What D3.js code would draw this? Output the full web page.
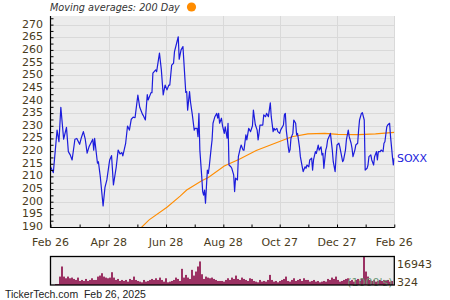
<!DOCTYPE html>
<html><head><meta charset="utf-8">
<script src="https://cdn.jsdelivr.net/npm/d3@7"></script>
<style>body{margin:0;background:#fff}svg{display:block}</style>
</head><body><svg id="c" width="450" height="300"></svg>
<script>
// ---------- data ----------
const startDate = "2024-02-26";
const endDate = "2025-02-26";
const tickDates = ["2024-02-26","2024-04-28","2024-06-28","2024-08-28","2024-10-27","2024-12-27","2025-02-26"];
const tickLabels = ["Feb 26","Apr 28","Jun 28","Aug 28","Oct 27","Dec 27","Feb 26"];
const yTickValues = [190,195,200,205,210,215,220,225,230,235,240,245,250,255,260,265,270];
const seriesName = "SOXX";
// price: days since start, closing value
const priceDays = [0,3,7,9,11,14,17,19,21,23,26,28,31,33,35,37,39,41,45,46,47,50,51,53,56,58,60,63,65,67,70,72,74,76,77,80,82,84,86,88,90,93,95,98,99,101,103,104,107,108,109,112,113,116,118,120,122,124,126,127,129,131,132,136,137,139,141,144,145,146,148,149,151,153,154,156,157,158,159,161,162,163,164,165,166,167,168,169,171,172,173,175,177,178,179,180,182,183,185,186,188,189,190,192,193,195,196,197,199,200,202,203,205,206,208,209,211,213,215,216,218,220,221,222,223,226,227,229,230,232,234,235,237,238,239,241,242,244,245,246,248,249,250,251,253,254,255,256,258,259,261,262,263,265,266,268,269,271,272,273,275,276,278,279,280,282,283,285,286,288,289,290,291,293,294,295,298,300,301,303,304,305,307,308,310,311,312,314,315,317,318,320,321,322,324,325,327,328,329,331,332,334,335,337,338,339,341,342,344,345,347,348,349,351,352,354,355,356,358,359,361,362,364,365,366];
const priceVals = [213.8,211.5,228.3,223.7,237.3,224.7,229.4,219.8,218.5,216.5,224.7,225.0,222.7,225.5,227.7,224.7,219.2,221.7,224.7,220.4,225.0,215.2,215.8,209.9,198.3,205.7,208.6,216.5,218.2,206.6,213.8,220.4,218.9,219.4,218.1,223.1,229.9,228.3,232.6,233.4,233.2,242.1,237.3,234.5,233.9,232.3,242.3,240.2,243.1,243.1,250.8,252.1,251.4,258.7,252.1,242.2,246.1,244.2,246.1,246.1,254.0,254.7,259.3,265.2,256.3,260.0,261.3,243.2,243.5,236.2,243.5,239.5,234.3,228.3,229.0,229.0,225.7,234.9,220.4,209.9,204.0,202.6,204.6,199.4,205.9,212.5,211.2,213.8,221.1,224.4,231.0,233.6,234.9,233.0,234.9,231.0,233.0,230.3,227.0,229.6,225.1,231.0,214.5,213.8,213.2,210.6,204.0,209.3,208.6,217.8,221.1,222.4,220.4,220.4,226.4,224.4,229.0,227.7,230.0,236.2,230.5,228.3,224.4,227.0,230.3,230.3,234.3,233.6,234.9,233.6,239.1,233.6,227.7,229.0,228.3,229.0,227.7,227.0,228.3,229.0,230.3,234.3,234.9,228.3,222.0,219.5,220.5,225.1,227.0,232.3,231.0,226.4,227.0,221.7,217.8,213.8,211.9,213.8,213.2,214.5,213.8,216.5,217.2,212.5,216.5,219.8,219.1,222.4,220.4,221.7,218.5,219.1,213.2,220.4,221.7,224.4,227.0,220.4,215.8,211.9,217.8,222.4,223.1,221.7,217.8,215.8,216.5,220.4,224.4,228.3,225.7,223.1,221.1,217.8,220.4,222.4,223.1,228.3,232.3,234.9,235.2,232.3,212.5,213.2,214.5,217.8,218.5,216.5,214.5,217.8,219.8,216.5,219.8,219.8,220.4,219.8,223.1,223.7,229.6,230.3,231.0,225.7,217.8,214.5,217.2];
// 200-day moving average
const maDays = [97,105,124,138,145,161,168,185,201,219,239,257,274,292,306,328,346,366];
const maVals = [189.9,192.8,197.8,202.2,204.6,208.3,209.6,214.1,216.8,220.2,223.1,225.7,226.8,227.0,226.6,226.5,226.8,227.4];
// volume (1000's), in date order
const volumes = [600,600,5000,11000,5000,4000,5000,4000,4400,3600,3000,4400,2400,3000,2400,3600,2400,3000,4000,3000,3000,5000,5600,7000,5000,4400,4000,4400,7600,4400,3000,3600,2400,3000,2400,3000,2000,3600,3000,5000,3000,2400,2000,1600,3000,2000,2400,3000,3600,3000,4000,3000,4400,3000,2000,4000,1600,2000,2400,3000,4400,3600,2400,9600,4400,6000,4400,3600,9000,5600,8000,11000,14000,6400,3600,5000,4400,4000,4400,3600,3000,2400,2400,2400,2000,3000,4000,3000,4400,3600,5600,3600,3000,4400,3600,3000,2400,4000,3600,2400,2000,1600,3000,2000,2400,2000,3000,6000,3000,2000,2400,1600,2400,3000,3600,5000,2400,2000,3000,4000,2400,3000,3600,2400,4000,3000,3000,2000,2400,3000,2000,2400,1600,2000,2400,2000,3600,3000,4400,3600,5000,3000,2000,2400,3000,3600,4000,2400,3000,2000,3000,3600,2400,4000,16943,8000,5000,3000,2400,3000,2000,2400,3000,2400,3000,2400,3000,2000,2400];
const volMaxLabel = "16943", volMinLabel = "324", volUnit = "(1000's)";
const titleText = "Moving averages: 200 Day";
const footerText = "TickerTech.com  Feb 26, 2025";

// ---------- chart ----------
const svg = d3.select("#c");
const parse = d3.timeParse("%Y-%m-%d");
const t0 = parse(startDate), t1 = parse(endDate);
const L = 50.5, R = 394.3, T = 16, B = 227;
const x = d3.scaleTime().domain([t0, t1]).range([L, R]);
const y = d3.scaleLinear().domain([190, 273.4]).range([B, T]);
const dayDate = d => d3.timeDay.offset(t0, d);
const font = "DejaVu Sans, Verdana, sans-serif";
const txtCol = "#4a3c1c";

svg.append("rect").attr("x", L).attr("y", T).attr("width", R - L).attr("height", B - T).attr("fill", "#ececec");

// grid
svg.append("g").selectAll("line").data(yTickValues.filter(v => v > 190)).join("line")
  .attr("x1", L).attr("x2", R).attr("y1", d => Math.round(y(d)) + 0.5).attr("y2", d => Math.round(y(d)) + 0.5)
  .attr("stroke", "#d9d9d9").attr("stroke-width", 1);
const tDates = tickDates.map(parse);
svg.append("g").selectAll("line").data(tDates.slice(1)).join("line")
  .attr("x1", d => Math.round(x(d)) + 0.5).attr("x2", d => Math.round(x(d)) + 0.5).attr("y1", T).attr("y2", B)
  .attr("stroke", "#d9d9d9").attr("stroke-width", 1);

// lines
svg.append("clipPath").attr("id", "clip").append("rect").attr("x", L).attr("y", T).attr("width", R - L).attr("height", B - T);
const maData = maDays.map((d, i) => [dayDate(d), maVals[i]]);
const prData = priceDays.map((d, i) => [dayDate(d), priceVals[i]]);
const line = d3.line().x(d => x(d[0])).y(d => y(d[1]));
svg.append("path").datum(maData).attr("d", line).attr("clip-path", "url(#clip)")
  .attr("fill", "none").attr("stroke", "#ff8c00").attr("stroke-width", 1.1);
svg.append("path").datum(prData).attr("d", line).attr("clip-path", "url(#clip)")
  .attr("fill", "none").attr("stroke", "#1c1cdc").attr("stroke-width", 1.2).attr("stroke-linejoin", "round");

// axes
const yAx = svg.append("g").attr("transform", `translate(${L},0)`)
  .call(d3.axisRight(y).tickValues(d3.range(190, 273, 2.5)).tickSize(3).tickFormat(""));
yAx.select(".domain").remove();
yAx.selectAll("line").attr("stroke", "#000");
svg.append("line").attr("x1", L).attr("x2", L).attr("y1", T).attr("y2", B + 0.5).attr("stroke", "#000").attr("stroke-width", 1.2);
svg.append("g").selectAll("text").data(yTickValues).join("text")
  .attr("x", 43).attr("y", d => y(d) + 3).attr("text-anchor", "end")
  .attr("font-family", font).attr("font-size", 11).attr("fill", txtCol).text(d => d);

const minor = [];
for (let i = 0; i < tDates.length - 1; i++) minor.push(new Date((+tDates[i] + +tDates[i + 1]) / 2));
const xAx = svg.append("g").attr("transform", `translate(0,${B + 0.5})`)
  .call(d3.axisTop(x).tickValues(tDates.concat(minor)).tickSize(3).tickFormat(""));
xAx.select(".domain").remove();
xAx.selectAll("line").attr("stroke", "#000");
svg.append("line").attr("x1", L).attr("x2", R + 0.5).attr("y1", B + 0.5).attr("y2", B + 0.5).attr("stroke", "#000").attr("stroke-width", 1.2);
svg.append("g").selectAll("text").data(tDates).join("text")
  .attr("x", d => x(d)).attr("y", 245.5).attr("text-anchor", "middle")
  .attr("font-family", font).attr("font-size", 11).attr("fill", txtCol).text((d, i) => tickLabels[i]);

// series label
svg.append("text").attr("x", 397).attr("y", y(priceVals[priceVals.length - 1]) + 4)
  .attr("font-family", font).attr("font-size", 11).attr("fill", "#1c1cdc").text(seriesName);

// title
svg.append("text").attr("x", 50).attr("y", 11).attr("font-family", font).attr("font-style", "italic")
  .attr("font-size", 9.7).attr("fill", "#333").text(titleText);
svg.append("circle").attr("cx", 191.5).attr("cy", 7).attr("r", 4.6).attr("fill", "#ff8c00");

// volume panel
const VT = 256.5, VB = 285;
svg.append("rect").attr("x", L).attr("y", VT).attr("width", R - L).attr("height", VB - VT).attr("fill", "#ececec");
const vx = d3.scaleBand().domain(d3.range(volumes.length)).range([55, 393]).padding(0);
const vy = d3.scaleLinear().domain([0, 16943]).range([VB, VT]);
svg.append("g").selectAll("rect").data(volumes).join("rect")
  .attr("x", (d, i) => vx(i)).attr("width", vx.bandwidth())
  .attr("y", d => vy(d)).attr("height", d => VB - vy(d)).attr("fill", "#9b3163");
svg.append("text").attr("x", 392.5).attr("y", 285.5).attr("text-anchor", "end")
  .attr("font-family", font).attr("font-size", 11).attr("fill", "#6e9a78").text(volUnit);
svg.append("rect").attr("x", L).attr("y", VT).attr("width", R - L).attr("height", VB - VT)
  .attr("fill", "none").attr("stroke", "#000").attr("stroke-width", 1.3);
svg.append("text").attr("x", 397).attr("y", 267.5).attr("font-family", font).attr("font-size", 11).attr("fill", txtCol).text(volMaxLabel);
svg.append("text").attr("x", 397).attr("y", 286).attr("font-family", font).attr("font-size", 11).attr("fill", txtCol).text(volMinLabel);

// footer
svg.append("text").attr("x", 5).attr("y", 297.5).attr("font-family", "Liberation Sans, Arial, sans-serif")
  .attr("font-size", 10.5).attr("fill", "#222").attr("xml:space", "preserve").style("white-space", "pre").text(footerText);
</script></body></html>
